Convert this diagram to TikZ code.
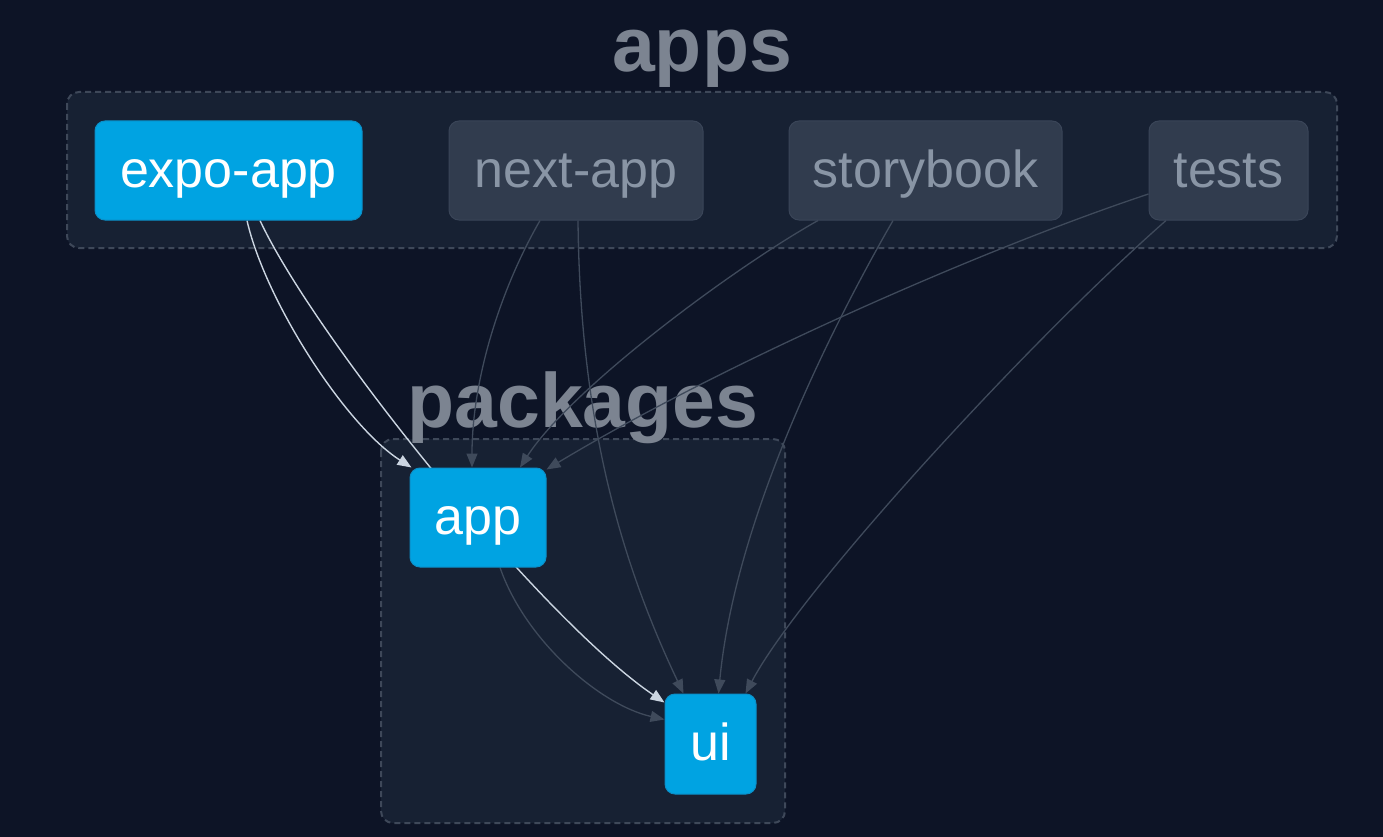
\documentclass[tikz,border=0pt]{standalone}
\usepackage{fontspec}
\setmainfont{Liberation Sans}
\usetikzlibrary{arrows.meta}
\definecolor{bgdark}{HTML}{0D1426}
\definecolor{clusterfill}{HTML}{172133}
\definecolor{clusterline}{HTML}{3E4859}
\definecolor{titlegray}{HTML}{7C8491}
\definecolor{bluefill}{HTML}{00A3E2}
\definecolor{blueline}{HTML}{0B8FC8}
\definecolor{mutedfill}{HTML}{313C4E}
\definecolor{mutedline}{HTML}{3A4558}
\definecolor{mutedtext}{HTML}{8995A5}
\definecolor{edgelight}{HTML}{CBD5E1}
\definecolor{edgedark}{HTML}{3F4A5B}
\pgfdeclarelayer{back}
\pgfdeclarelayer{edges}
\pgfsetlayers{back,edges,main}
\tikzset{
  cluster/.style={fill=clusterfill, draw=clusterline, line width=2pt,
    dash pattern=on 6pt off 4pt, rounded corners=12pt},
  title/.style={text=titlegray, font=\bfseries\fontsize{77}{84}\selectfont,
    anchor=base, inner sep=0pt},
  pkgbox/.style={fill=bluefill, draw=blueline, line width=1pt, rounded corners=10pt,
    text=white, inner sep=0pt, font=\fontsize{52}{60}\selectfont,
    text height=43pt, text depth=10pt},
  appbox/.style={fill=mutedfill, draw=mutedline, line width=1pt, rounded corners=10pt,
    text=mutedtext, inner sep=0pt, font=\fontsize{52}{60}\selectfont,
    text height=43pt, text depth=10pt},
  lightdep/.style={draw=edgelight, line width=1.4pt, -{Triangle[length=14pt,width=11pt]}},
  darkdep/.style={draw=edgedark, line width=1.3pt, -{Triangle[length=14pt,width=11pt]}}
}
\begin{document}
\begin{tikzpicture}[x=1pt,y=-1pt]
  \useasboundingbox (0,0) rectangle (1383,837);
  % groups
  \begin{pgfonlayer}{back}
    \fill[bgdark] (0,0) rectangle (1383,837);
    \draw[cluster] (67,92) rectangle (1337,248);
    \draw[cluster] (381,439) rectangle (785,823);
    \node[title] (appstitle) at (702,72) {apps};
    \node[title] (pkgtitle) at (583,427) {packages};
  \end{pgfonlayer}
  % workspaces
  \node[pkgbox, minimum width=267pt, minimum height=99pt] (expo) at (228.5,170.5) {expo-app};
  \node[appbox, minimum width=254pt, minimum height=99pt] (next) at (576,170.5) {next-app};
  \node[appbox, minimum width=273pt, minimum height=99pt] (story) at (925.5,170.5) {storybook};
  \node[appbox, minimum width=159pt, minimum height=99pt] (tests) at (1228.5,170.5) {tests};
  \node[pkgbox, minimum width=136pt, minimum height=99pt] (app) at (478,517.5) {app};
  \node[pkgbox, minimum width=91pt, minimum height=100pt] (ui) at (710.5,744) {ui};
  % dependencies
  \begin{pgfonlayer}{edges}
    \draw[lightdep] ([xshift=18.5pt]expo.south) .. controls (265,300) and (345,425) .. ([xshift=2pt]app.north west);
    \draw[lightdep] ([xshift=31.5pt]expo.south) .. controls (315,338) and (540,618) .. ([yshift=-9pt]ui.north west);
    \draw[darkdep] ([xshift=22pt]app.south) .. controls (525,640) and (600,705) .. ([yshift=-26pt]ui.north west);
    \draw[darkdep] ([xshift=-36pt]next.south) .. controls (500,290) and (472,380) .. ([xshift=-6pt]app.north);
    \draw[darkdep] ([xshift=2pt]next.south) .. controls (580,420) and (620,560) .. ([xshift=-27pt]ui.north);
    \draw[darkdep] ([xshift=-107.5pt]story.south) .. controls (730,270) and (570,390) .. ([xshift=42pt]app.north);
    \draw[darkdep] ([xshift=-32.5pt]story.south) .. controls (830,330) and (735,520) .. ([xshift=8pt]ui.north);
    \draw[darkdep] ([yshift=-23.5pt]tests.west) .. controls (980,250) and (720,365) .. ([yshift=-2pt]app.north east);
    \draw[darkdep] ([xshift=-62.5pt]tests.south) .. controls (1030,340) and (800,590) .. ([xshift=35pt]ui.north);
  \end{pgfonlayer}
\end{tikzpicture}
\end{document}
